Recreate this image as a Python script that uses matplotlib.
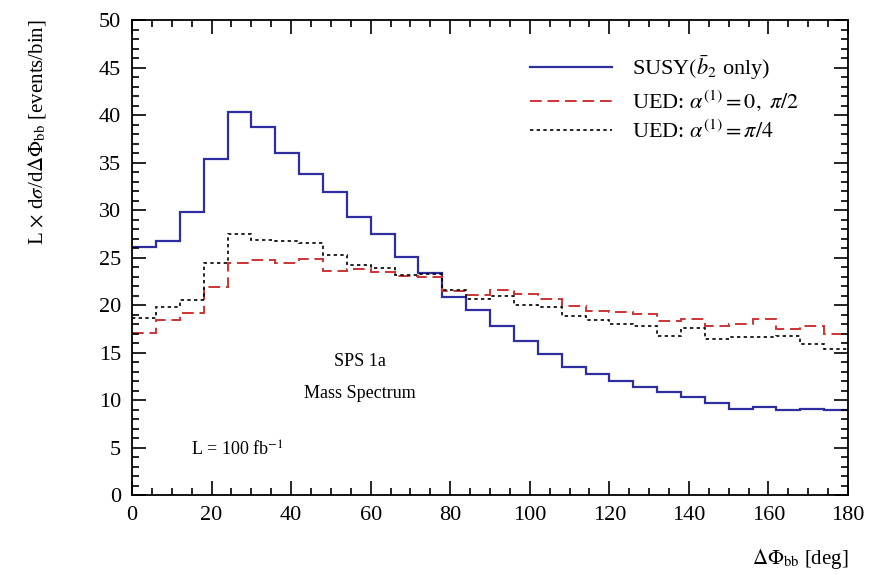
import numpy as np
import matplotlib
matplotlib.use("Agg")
import matplotlib.pyplot as plt
from matplotlib.ticker import MultipleLocator
from matplotlib.lines import Line2D

plt.rcParams['font.family'] = ['Liberation Serif', 'DejaVu Serif']
plt.rcParams['mathtext.fontset'] = 'stix'

# bin edges (deg) and series values (events/bin)
bin_edges = np.arange(0, 181, 6)
susy = [26.1, 26.7, 29.8, 35.4, 40.3, 38.7, 36.0, 33.8, 31.9, 29.3,
        27.5, 25.1, 23.4, 20.8, 19.5, 17.8, 16.2, 14.8, 13.5, 12.7,
        12.0, 11.4, 10.8, 10.3, 9.7, 9.05, 9.26, 8.9, 9.05, 8.9]
ued_0 = [17.1, 18.4, 19.2, 21.9, 24.4, 24.7, 24.4, 24.8, 23.6, 23.8,
         23.5, 23.05, 22.9, 21.5, 21.05, 21.6, 21.2, 20.6, 19.9, 19.4,
         19.3, 19.05, 18.3, 18.5, 17.8, 18.0, 18.5, 17.5, 17.8, 16.9]
ued_pi4 = [18.6, 19.8, 20.5, 24.4, 27.5, 26.8, 26.7, 26.5, 25.3, 24.2,
           23.9, 23.2, 23.3, 21.6, 20.6, 20.9, 20.0, 19.8, 18.8, 18.4,
           18.0, 17.8, 16.7, 17.6, 16.4, 16.6, 16.6, 16.7, 15.9, 15.4]

labels = [r'SUSY$(\bar{b}_2$ only)',
          r'UED: $\alpha^{(1)} = 0,\ \pi/2$',
          r'UED: $\alpha^{(1)} = \pi/4$']

fig = plt.figure(figsize=(8.82, 5.75), dpi=100)
ax = fig.add_axes([0.1497, 0.1391, 0.9615 - 0.1497, 0.9652 - 0.1391])

ax.stairs(susy, bin_edges, color='#2e2ea0', lw=1.6, baseline=None)
ax.stairs(ued_0, bin_edges, color='#cc3333', lw=1.4, ls=(0, (6, 3)), baseline=None)
ax.stairs(ued_pi4, bin_edges, color='black', lw=1.2, ls=(0, (2, 2)), baseline=None)

ax.set_xlim(0, 180)
ax.set_ylim(0, 50)
ax.xaxis.set_major_locator(MultipleLocator(20))
ax.xaxis.set_minor_locator(MultipleLocator(5))
ax.yaxis.set_major_locator(MultipleLocator(5))
ax.yaxis.set_minor_locator(MultipleLocator(1))
ax.tick_params(which='both', direction='in', top=True, right=True, labelsize=16, width=1.2)
ax.tick_params(which='major', length=10, pad=8)
ax.tick_params(which='minor', length=5)
for s in ax.spines.values():
    s.set_linewidth(1.3)

ax.set_ylabel(r'L $\times$ d$\sigma$/d$\Delta\Phi_{\rm bb}$ [events/bin]', fontsize=15)
ax.yaxis.set_label_coords(-0.117, 0.765)
ax.set_xlabel(r'$\Delta\Phi_{\rm bb}$ [deg]', fontsize=15, ha='right')
ax.xaxis.set_label_coords(1.0, -0.11)

handles = [Line2D([], [], color='#2e2ea0', lw=1.6),
           Line2D([], [], color='#cc3333', lw=1.4, ls=(0, (6, 3))),
           Line2D([], [], color='black', lw=1.2, ls=(0, (2, 2)))]
ax.legend(handles, labels, loc='upper left', bbox_to_anchor=(0.556, 0.93),
          frameon=False, fontsize=16, handlelength=3.7, handletextpad=0.9,
          labelspacing=0.3, borderpad=0, borderaxespad=0)

ax.text(0.318, 0.282, 'SPS 1a', transform=ax.transAxes, ha='center', va='center', fontsize=13)
ax.text(0.318, 0.214, 'Mass Spectrum', transform=ax.transAxes, ha='center', va='center', fontsize=13)
ax.text(0.083, 0.095, r'L = 100 fb$^{-1}$', transform=ax.transAxes, ha='left', va='center', fontsize=13)

fig.savefig('out.png', dpi=100)
